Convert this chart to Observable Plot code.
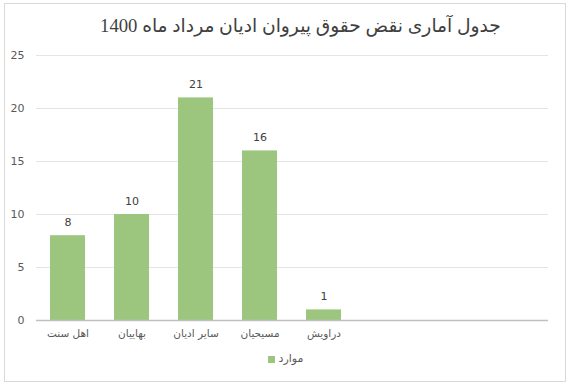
<!DOCTYPE html>
<html>
<head>
<meta charset="utf-8">
<script src="https://cdn.jsdelivr.net/npm/d3@7"></script>
<script src="https://cdn.jsdelivr.net/npm/@observablehq/plot@0.6"></script>
<style>
  html, body { margin: 0; padding: 0; background: #fff; }
  #frame { position: absolute; left: 4px; top: 3px; width: 560px; height: 377px; border: 1px solid #d9d9d9; box-sizing: content-box; }
  #title { position: absolute; left: 30px; top: 15px; width: 541px; text-align: center; font-family: "Liberation Serif", "DejaVu Sans", serif; font-size: 18.7px; color: #404040; direction: rtl; }
  #chart { position: absolute; left: 0; top: 45px; }
  #legend { position: absolute; left: 0; top: 352px; width: 571px; text-align: center; font-family: "DejaVu Sans", sans-serif; font-size: 11px; color: #595959; }
  #legend .sw { display: inline-block; width: 7px; height: 7px; background: #9cc67e; margin-right: 4px; vertical-align: middle; }
</style>
</head>
<body>
<div id="frame"></div>
<div id="title"></div>
<div id="chart"></div>
<div id="legend"></div>
<script>
const titleText = "جدول آماری نقض حقوق پیروان ادیان مرداد ماه 1400";
const seriesName = "موارد";
const categories = ["اهل سنت", "بهاییان", "سایر ادیان", "مسیحیان", "دراویش"];
const values = [8, 10, 21, 16, 1];
const emptySlots = ["_e1", "_e2", "_e3"];
const yTicks = [0, 5, 10, 15, 20, 25];

const data = categories.map((c, i) => ({category: c, value: values[i]}));
const domain = [...categories, ...emptySlots];
const color = "#9cc67e";

document.getElementById("title").textContent = titleText;
const lg = document.getElementById("legend");
lg.innerHTML = '<span class="sw"></span><span class="lt"></span>';
lg.querySelector(".lt").textContent = seriesName;

const chart = Plot.plot({
  width: 571,
  height: 300,
  marginLeft: 36,
  marginRight: 23,
  marginTop: 10,
  marginBottom: 25,
  style: {fontFamily: "DejaVu Sans, sans-serif", fontSize: "11px", color: "#595959", background: "transparent"},
  x: {domain, paddingInner: 0.45, paddingOuter: 0.225, label: null},
  y: {domain: [0, 25], label: null},
  marks: [
    Plot.gridY(yTicks, {stroke: "#d9d9d9", strokeOpacity: 0.7}),
    Plot.axisY(yTicks, {tickSize: 0, tickPadding: 12, fontSize: 11, label: null}),
    Plot.barY(data, {x: "category", y: "value", fill: color}),
    Plot.ruleY([0], {stroke: "#bfbfbf", strokeWidth: 1.5}),
    Plot.axisX({tickSize: 0, tickPadding: 9, tickFormat: d => categories.includes(d) ? d : "", fontSize: 10.5, label: null}),
    Plot.text(data, {x: "category", y: "value", text: d => String(d.value), dy: -13, fill: "#404040", fontSize: 11})
  ]
});
document.getElementById("chart").appendChild(chart);
</script>
</body>
</html>
